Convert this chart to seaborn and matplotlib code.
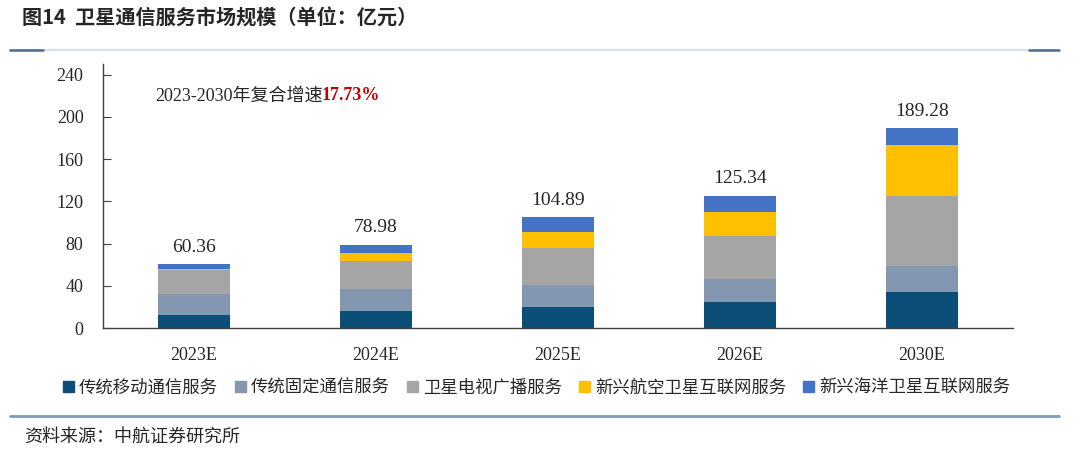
import matplotlib.pyplot as plt
import matplotlib.lines as mlines
import matplotlib.patches as mpatches
import seaborn as sns
import pandas as pd
import numpy as np

years = ['2023E', '2024E', '2025E', '2026E', '2030E']
totals = [60.36, 78.98, 104.89, 125.34, 189.28]
series_names = ['传统移动通信服务', '传统固定通信服务', '卫星电视广播服务',
                '新兴航空卫星互联网服务', '新兴海洋卫星互联网服务']
mobile = [12.6, 15.7, 19.5, 24.3, 34.1]
fixed = [19.9, 20.9, 21.5, 21.8, 24.9]
tv = [22.1, 27.2, 34.8, 40.7, 65.7]
aviation = [1.3, 7.5, 14.8, 23.1, 48.3]
maritime = [4.46, 7.68, 14.29, 15.44, 16.28]

colors = ['#0B4F78', '#8497B0', '#A5A5A5', '#FFC000', '#4472C4']

df = pd.DataFrame({'year': years, series_names[0]: mobile, series_names[1]: fixed,
                   series_names[2]: tv, series_names[3]: aviation,
                   series_names[4]: maritime})
cum = df[series_names].cumsum(axis=1)
cum['year'] = years

sns.set_style('white')
plt.rcParams['font.family'] = ['Liberation Serif', 'Noto Sans CJK SC']
cjk = ['Liberation Serif', 'Noto Sans CJK SC']

fig = plt.figure(figsize=(10.8, 4.58), dpi=100)
ax = fig.add_axes([0.0954, 0.2838, 0.8426, 0.576])

# draw from the top layer down so lower segments cover upper cumulative bars
for name, col in zip(series_names[::-1], colors[::-1]):
    sns.barplot(data=cum, x='year', y=name, color=col, width=0.4,
                saturation=1, ax=ax, linewidth=0)

for i, t in enumerate(totals):
    ax.text(i, t + 8, f'{t:.2f}', ha='center', va='bottom', fontsize=14,
            color='#262626')

ax.set_ylim(0, 250)
ax.set_xlim(-0.5, 4.5)
ax.set_yticks(np.arange(0, 241, 40))
ax.set_xlabel('')
ax.set_ylabel('')
for s in ['top', 'right']:
    ax.spines[s].set_visible(False)
for s in ['left', 'bottom']:
    ax.spines[s].set_color('#404040')
    ax.spines[s].set_linewidth(1.0)
ax.tick_params(axis='y', direction='in', length=6, labelsize=13,
               colors='#404040', labelcolor='#262626', pad=14, left=True)
ax.tick_params(axis='x', length=0, labelsize=13, labelcolor='#262626', pad=14)

ax.text(0.057, 0.88, '2023-2030年复合增速', transform=ax.transAxes,
        fontsize=13, color='#262626', va='center', family=cjk)
ax.text(0.24, 0.88, '17.73%', transform=ax.transAxes, fontsize=13,
        color='#C00000', fontweight='bold', va='center')

handles = [mpatches.Patch(color=c, label=n) for n, c in zip(series_names, colors)]
fig.legend(handles=handles, loc='center', bbox_to_anchor=(0.497, 0.152),
           ncol=5, frameon=False, handlelength=0.6,
           handleheight=0.6, handletextpad=0.3, columnspacing=1.0,
           prop={'family': cjk, 'size': 12.5})

# header and footer
fig.text(0.02, 0.96, '图14  卫星通信服务市场规模（单位：亿元）', fontsize=14.5,
         fontweight='bold', va='center', ha='left', family=['Noto Sans CJK SC'])
fig.add_artist(mlines.Line2D([0.009, 0.981], [0.891, 0.891], color='#D6DEE8', lw=1.5))
fig.add_artist(mlines.Line2D([0.009, 0.04], [0.891, 0.891], color='#4F6D8F', lw=1.8))
fig.add_artist(mlines.Line2D([0.953, 0.981], [0.891, 0.891], color='#4F6D8F', lw=1.8))
fig.add_artist(mlines.Line2D([0.009, 0.981], [0.092, 0.092], color='#7F9BB8', lw=2))
fig.text(0.022, 0.045, '资料来源：中航证券研究所', fontsize=13, va='center',
         ha='left', family=cjk, color='#262626')

fig.savefig('out.png', dpi=100)
